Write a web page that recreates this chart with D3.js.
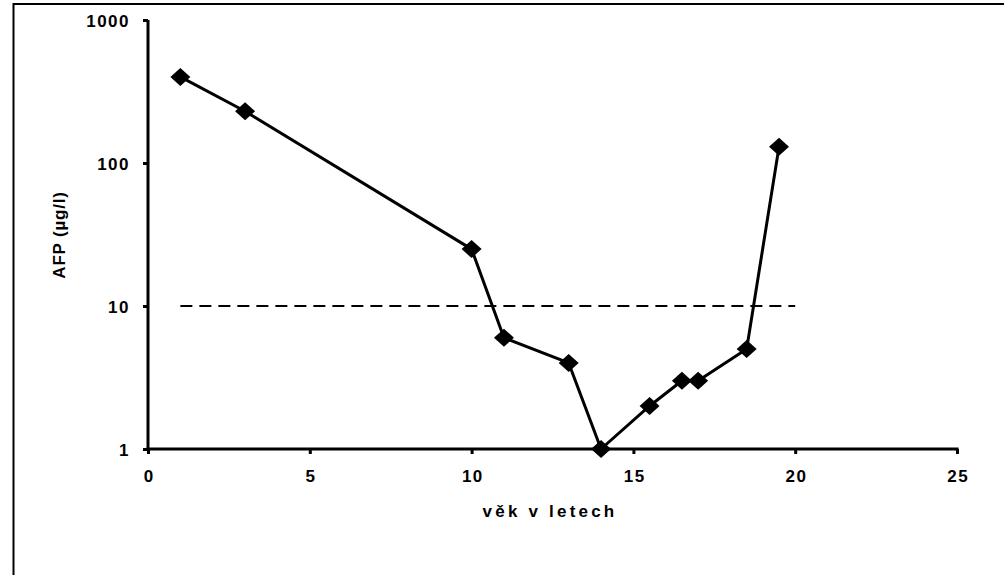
<!DOCTYPE html>
<html>
<head>
<meta charset="utf-8">
<script src="https://cdn.jsdelivr.net/npm/d3@7"></script>
<style>
  body { margin: 0; background: #fff; }
  svg text { font-family: "Liberation Sans", Arial, sans-serif; font-weight: bold; fill: #000; }
</style>
</head>
<body>
<svg id="chart" width="1004" height="575"></svg>
<script>
// age in years vs AFP level
const ages = [1, 3, 10, 11, 13, 14, 15.5, 16.5, 17, 18.5, 19.5];
const afp = [400, 230, 25, 6, 4, 1, 2, 3, 3, 5, 130];
const xTicks = [0, 5, 10, 15, 20, 25];
const yTicks = [1, 10, 100, 1000];
const limitValue = 10;
const limitRange = [1, 20];

const svg = d3.select('#chart');

// outer frame (right and bottom edges fall off the picture)
svg.append('rect')
  .attr('x', 13.5).attr('y', 4)
  .attr('width', 1000).attr('height', 600)
  .attr('fill', 'none').attr('stroke', '#000').attr('stroke-width', 2);

const x = d3.scaleLinear().domain([0, 25]).range([148, 957]);
const y = d3.scaleLog().domain([1, 1000]).range([449, 20]);

// y axis
const yAxis = svg.append('g')
  .attr('transform', `translate(${x(0)},0)`)
  .call(d3.axisLeft(y).tickValues(yTicks).tickFormat(d3.format('d')).tickSize(5).tickPadding(13));
yAxis.select('.domain').attr('stroke-width', 3).attr('d', `M0,${y(1) + 1.5}V${y(1000)}`);
yAxis.selectAll('.tick line').attr('stroke-width', 3);
yAxis.selectAll('.tick text')
  .attr('font-size', 17)
  .attr('letter-spacing', 1.5)
  .attr('dy', '0.36em');

// x axis
const xAxis = svg.append('g')
  .attr('transform', `translate(0,${y(1)})`)
  .call(d3.axisBottom(x).tickValues(xTicks).tickSize(5).tickPadding(16));
xAxis.select('.domain').attr('stroke-width', 3).attr('d', `M${x(0) - 1.5},0H${x(25) + 1.5}`);
xAxis.selectAll('.tick line').attr('stroke-width', 3);
xAxis.selectAll('.tick text')
  .attr('font-size', 17)
  .attr('letter-spacing', 1.5)
  .attr('dx', 0.75);

// axis titles
svg.append('text')
  .attr('x', 550).attr('y', 517)
  .attr('text-anchor', 'middle')
  .attr('font-size', 17)
  .attr('letter-spacing', 3.2)
  .text('věk v letech');

svg.append('text')
  .attr('transform', 'translate(65,235) rotate(-90)')
  .attr('text-anchor', 'middle')
  .attr('font-size', 17)
  .attr('letter-spacing', 0.8)
  .text('AFP (µg/l)');

// reference limit
svg.append('line')
  .attr('x1', x(limitRange[0])).attr('x2', x(limitRange[1]))
  .attr('y1', y(limitValue)).attr('y2', y(limitValue))
  .attr('stroke', '#000').attr('stroke-width', 2)
  .attr('stroke-dasharray', '12,7');

const points = ages.map((a, i) => ({ age: a, value: afp[i] }));

svg.append('path')
  .datum(points)
  .attr('fill', 'none')
  .attr('stroke', '#000')
  .attr('stroke-width', 3)
  .attr('stroke-linejoin', 'round')
  .attr('d', d3.line().x(d => x(d.age)).y(d => y(d.value)));

svg.append('g')
  .selectAll('path')
  .data(points)
  .join('path')
  .attr('transform', d => `translate(${x(d.age)},${y(d.value)})`)
  .attr('d', 'M0,-9L10,0L0,9L-10,0Z')
  .attr('fill', '#000');
</script>
</body>
</html>
